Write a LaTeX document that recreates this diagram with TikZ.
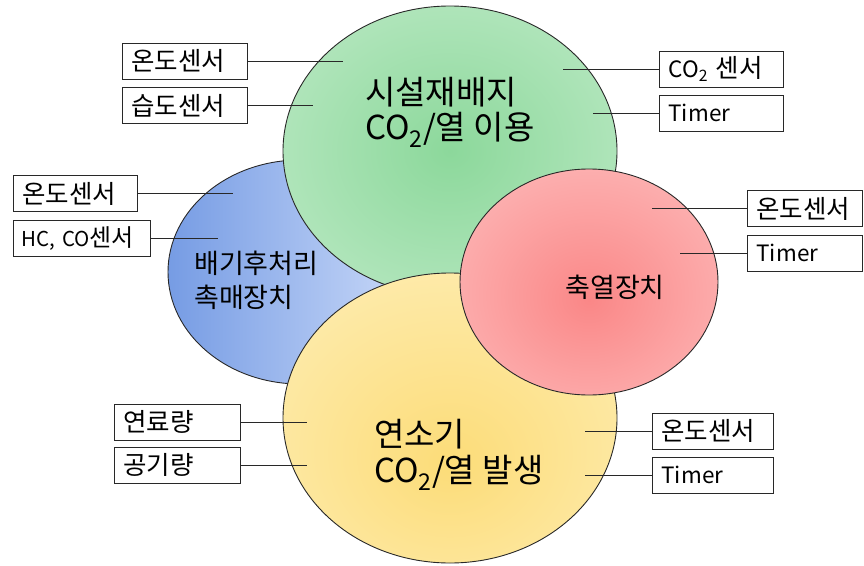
\documentclass[tikz,border=0pt]{standalone}
\usepackage{fontspec}
\setmainfont{Noto Sans CJK KR}
\definecolor{gin}{RGB}{140,216,155}
\definecolor{gout}{RGB}{212,242,218}
\definecolor{yin}{RGB}{252,220,120}
\definecolor{yout}{RGB}{255,246,210}
\definecolor{rin}{RGB}{250,135,135}
\definecolor{rout}{RGB}{255,212,212}
\definecolor{bl}{RGB}{118,156,228}
\definecolor{br}{RGB}{208,222,250}
\definecolor{edge}{RGB}{40,40,40}
\pgfdeclareradialshading{gshade}{\pgfpoint{0bp}{0bp}}{color(0bp)=(gin); color(52bp)=(gout); color(72bp)=(gout)}
\pgfdeclareradialshading{yshade}{\pgfpoint{0bp}{-8bp}}{color(0bp)=(yin); color(56bp)=(yout); color(76bp)=(yout)}
\pgfdeclareradialshading{rshade}{\pgfpoint{0bp}{-4bp}}{color(0bp)=(rin); color(54bp)=(rout); color(74bp)=(rout)}
\newcommand\kk[1]{{\fontsize{25.5}{28}\selectfont #1}}
\newcommand\ks[1]{{\fontsize{24}{28}\selectfont #1}}
\begin{document}
\begin{tikzpicture}[x=1pt,y=-1pt,
  blob/.style={draw=edge, line width=0.9pt},
  box/.style={draw=edge, line width=1pt, rectangle, inner xsep=9pt, inner ysep=0pt,
     minimum height=36pt, align=left, font=\fontsize{22.5}{26}\selectfont, anchor=west},
  wire/.style={draw=edge, line width=0.8pt}]
\useasboundingbox (0,0) rectangle (864,565);
% ellipses
\path[blob, left color=bl, right color=br] (300,272) ellipse [x radius=132, y radius=112];
\path[blob, shading=gshade] (450,151) ellipse [x radius=167, y radius=145];
\path[blob, shading=yshade] (450,418) ellipse [x radius=167, y radius=145];
\path[blob, shading=rshade] (589,282) ellipse [x radius=129, y radius=113];
% ellipse texts
\node[inner sep=0pt, align=left, anchor=west, font=\fontsize{33}{35}\selectfont] (tg) at (365,112) {시설재배지\\CO\textsubscript{2}/열 이용};
\node[inner sep=0pt, align=left, anchor=west, font=\fontsize{27}{34}\selectfont] (tb) at (194,280) {배기후처리\\촉매장치};
\node[inner sep=0pt, anchor=center, font=\fontsize{27}{30}\selectfont] (tr) at (615,287) {축열장치};
\node[inner sep=0pt, align=left, anchor=west, font=\fontsize{33}{36}\selectfont] (ty) at (374,455) {연소기\\CO\textsubscript{2}/열 발생};
% boxes
\node[box, text width=107pt] (b1) at (122,61) {\kk{온도센서}};
\node[box, text width=107pt] (b2) at (122,105.5) {\kk{습도센서}};
\node[box, text width=106pt] (b3) at (659,69) {CO\textsubscript{2} \kk{센서}};
\node[box, text width=106pt] (b4) at (659,113) {Timer};
\node[box, text width=106pt] (b5) at (13,193.5) {\kk{온도센서}};
\node[box, text width=121pt, inner xsep=8pt, font=\fontsize{20.5}{26}\selectfont] (b6) at (13,238.5) {HC, CO\ks{센서}};
\node[box, text width=97pt] (b7) at (747,208.5) {\kk{온도센서}};
\node[box, text width=97pt] (b8) at (747,253) {Timer};
\node[box, text width=108pt] (b9) at (114,422) {\kk{연료량}};
\node[box, text width=108pt] (b10) at (114,465) {\kk{공기량}};
\node[box, text width=103pt] (b11) at (652,431) {\kk{온도센서}};
\node[box, text width=103pt] (b12) at (652,475) {Timer};
% connector ends
\coordinate (c1) at (343,61);
\coordinate (c2) at (313,105.5);
\coordinate (c3) at (563,69);
\coordinate (c4) at (593,113);
\coordinate (c5) at (233,193.5);
\coordinate (c6) at (218,238.5);
\coordinate (c7) at (652,208.5);
\coordinate (c8) at (680,253);
\coordinate (c9) at (307,422);
\coordinate (c10) at (307,465);
\coordinate (c11) at (585,431);
\coordinate (c12) at (585,475);
\draw[wire] (b1.east) -- (c1);
\draw[wire] (b2.east) -- (c2);
\draw[wire] (b3.west) -- (c3);
\draw[wire] (b4.west) -- (c4);
\draw[wire] (b5.east) -- (c5);
\draw[wire] (b6.east) -- (c6);
\draw[wire] (b7.west) -- (c7);
\draw[wire] (b8.west) -- (c8);
\draw[wire] (b9.east) -- (c9);
\draw[wire] (b10.east) -- (c10);
\draw[wire] (b11.west) -- (c11);
\draw[wire] (b12.west) -- (c12);
\end{tikzpicture}
\end{document}
